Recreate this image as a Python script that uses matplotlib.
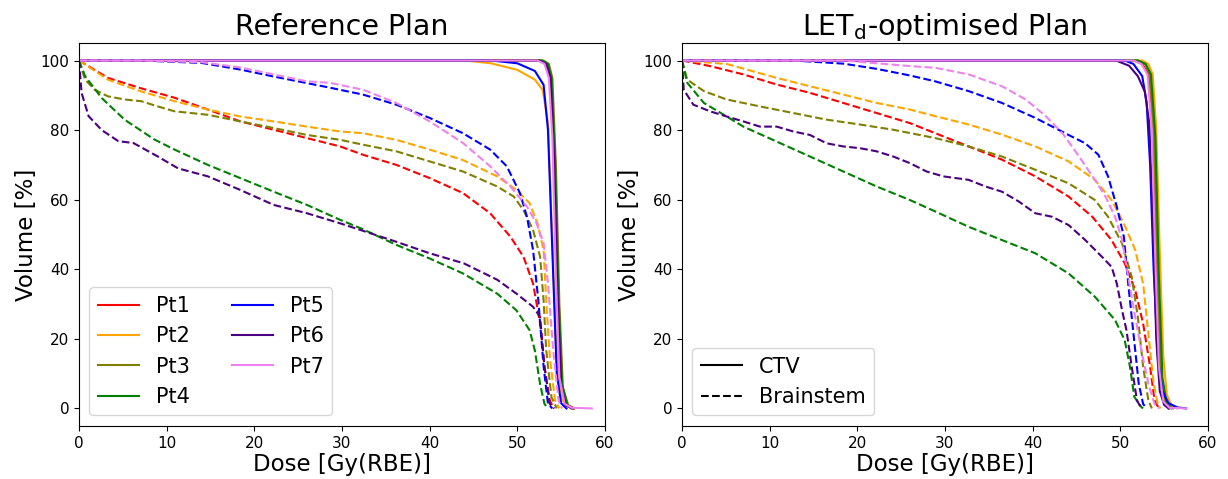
#!/usr/bin/env python3
import matplotlib
matplotlib.use('Agg')
import matplotlib.pyplot as plt
from matplotlib.lines import Line2D

patients = ['Pt1', 'Pt2', 'Pt3', 'Pt4', 'Pt5', 'Pt6', 'Pt7']
colours = ['red', 'orange', 'olive', 'green', 'blue', 'indigo', 'violet']

# ---- Reference plan: CTV DVHs (dose [Gy(RBE)], volume [%])
ref_ctv_dose = [
    [0, 52.5, 53.3, 53.8, 54.2, 54.6, 55, 55.5, 56.3],
    [0, 44, 47, 50, 52, 52.9, 53.5, 54, 54.5, 55, 55.6, 56.5],
    [0, 53, 53.6, 54, 54.4, 54.8, 55.2, 55.8, 56.5],
    [0, 52.8, 53.5, 53.9, 54.3, 54.7, 55.1, 55.7, 56.4],
    [0, 47, 50, 52, 53, 53.5, 54, 54.5, 55, 55.6],
    [0, 52.5, 53.3, 53.8, 54.2, 54.6, 55, 55.5, 56.2],
    [0, 52.3, 53.1, 53.6, 54, 54.4, 54.8, 55.4, 56.2, 58.5],
]
ref_ctv_vol = [
    [100, 100, 99, 95, 75, 35, 8, 1, 0],
    [100, 100, 99.2, 97.3, 94.5, 91.5, 82, 48, 12, 3, 0.7, 0],
    [100, 100, 99, 95, 70, 30, 6, 1, 0],
    [100, 100, 99, 95, 72, 32, 7, 1, 0],
    [100, 100, 99.2, 97, 93, 80, 45, 10, 1.5, 0],
    [100, 100, 99, 95, 72, 32, 7, 1, 0],
    [100, 100, 99, 95, 78, 38, 9, 1.3, 0.2, 0],
]

# ---- Reference plan: brainstem DVHs
ref_bs_dose = [
    [0, 3.3, 7.1, 10.9, 14.7, 18.4, 22.2, 26, 29.8, 32.4, 36.2, 40, 43.8, 46.9, 49.2, 50.7, 51.8, 52.6, 53.1, 53.7, 54.2],
    [0, 3.3, 7.1, 10.9, 14.7, 18.4, 22.2, 26, 29.8, 32.4, 36.2, 40, 43.8, 47.7, 49.9, 51.4, 52.3, 53, 53.3, 53.7, 54.3, 54.8],
    [0, 0.7, 1.8, 3.3, 5.2, 7.1, 9, 10.9, 14.7, 18.4, 22.2, 26, 29.8, 32.4, 36.2, 40, 43.8, 47.7, 49.6, 50.7, 51.8, 52.6, 53, 53.3, 53.9, 54.5],
    [0, 0.7, 2.6, 5.2, 8.6, 10.9, 14.7, 18.4, 22.2, 26, 29.8, 32.4, 36.2, 40, 43.8, 47.7, 49.9, 51.4, 52, 52.6, 53.1, 53.5],
    [0, 7, 14, 18.4, 22.2, 26, 28.6, 32.4, 36.2, 40, 43.8, 46.9, 48.8, 50.3, 51.1, 51.8, 52.4, 53, 53.5, 54],
    [0, 0.3, 1.1, 2.6, 4.5, 6.2, 9, 11.3, 14.7, 18.4, 22.2, 26, 29.8, 36.2, 40, 43.9, 47.7, 49.9, 51.8, 52.6, 53.1, 53.7, 54.2],
    [0, 7, 14, 18.4, 22.2, 26, 28.6, 32.4, 36.2, 40, 43.8, 46.9, 49.2, 51.1, 52.2, 53, 53.5, 54.1, 54.7, 55.1],
]
ref_bs_vol = [
    [100, 95, 92, 89.3, 85.9, 82.5, 80.1, 77.7, 75.3, 72.9, 70, 66.2, 61.9, 56.1, 49.4, 43.6, 35.9, 24.4, 12, 2.3, 0],
    [100, 94.5, 91.1, 88.3, 85.9, 83.9, 82.5, 81, 79.6, 79.1, 77.2, 74.4, 71.4, 66.7, 62.8, 59, 53.2, 45.5, 31, 14.8, 2.3, 0],
    [100, 94.5, 91.6, 89.7, 88.8, 88.3, 86.8, 85.4, 84.4, 82.5, 80.6, 78.6, 77.2, 75.8, 73.9, 71, 68.1, 63.8, 60.9, 57, 51.3, 43.6, 31, 16.7, 3.2, 0],
    [100, 95.5, 89.2, 83, 77.3, 74.4, 70, 66.2, 62.3, 58.5, 54.2, 51.5, 47, 43.1, 38.8, 33, 28.2, 22.5, 16.7, 7, 1.3, 0],
    [100, 100, 99.3, 97.4, 95.4, 93.5, 92.2, 90.2, 87.3, 83.5, 79.1, 74.4, 69.6, 61.9, 55.1, 45.5, 31, 12, 1.3, 0],
    [100, 90.7, 84, 80, 76.8, 76.3, 72.4, 69, 66.7, 62.8, 58.5, 56.1, 53.2, 47.9, 44.6, 41.7, 37, 33, 29.2, 26.3, 12, 1.3, 0],
    [100, 100, 99.5, 98, 96, 94, 93.6, 91.6, 87.8, 82.5, 76.3, 69.6, 63.8, 58, 53.2, 47.5, 35.9, 16.7, 2.3, 0],
]

# ---- LETd-optimised plan: CTV DVHs
opt_ctv_dose = [
    [0, 51.5, 52.5, 53.2, 53.7, 54.1, 54.5, 55, 55.6],
    [0, 52.5, 53.2, 53.7, 54.1, 54.5, 54.9, 55.3, 55.8, 56.5],
    [0, 52, 52.8, 53.4, 53.9, 54.3, 54.7, 55.2, 55.8],
    [0, 52, 52.9, 53.5, 54, 54.4, 54.8, 55.3, 56],
    [0, 50.5, 51.5, 52.5, 53, 53.4, 53.8, 54.3, 54.8, 55.5, 56.5, 57.5],
    [0, 49.5, 51, 52, 52.8, 53.3, 53.7, 54.1, 54.5, 55, 55.5],
    [0, 51.5, 52.4, 53.1, 53.6, 54, 54.4, 54.9, 55.6, 57.5],
]
opt_ctv_vol = [
    [100, 100, 99, 96, 80, 40, 10, 1.5, 0],
    [100, 100, 99, 96, 80, 45, 15, 4, 1, 0],
    [100, 100, 99, 96, 75, 35, 8, 1, 0],
    [100, 100, 99, 96, 78, 38, 9, 1.2, 0],
    [100, 100, 99, 95.5, 88, 70, 40, 14, 5, 1.5, 0.3, 0],
    [100, 100, 98.5, 95.5, 91, 82, 55, 20, 5, 1, 0],
    [100, 100, 99, 96, 80, 42, 12, 2, 0.2, 0],
]

# ---- LETd-optimised plan: brainstem DVHs
opt_bs_dose = [
    [0, 3.2, 7, 10.8, 14.6, 18.4, 22.2, 26, 28.9, 32.7, 36.5, 40.3, 44.1, 46.8, 49, 50.5, 51.7, 52.6, 53.4, 53.9, 54.4],
    [0, 5.1, 10.8, 14.6, 18.4, 22.2, 26, 28.9, 32.7, 36.5, 40.3, 44.1, 47.1, 49, 50.4, 51.7, 52.6, 53.2, 53.8, 54.3, 54.6],
    [0, 0.6, 2.5, 5.1, 8.9, 12.7, 16.5, 20.3, 24.1, 28.9, 32.7, 36.5, 40.3, 44.1, 47.1, 48.6, 50.2, 51.3, 52, 52.6, 53.2, 53.6],
    [0, 0.6, 2.5, 5.1, 7, 10.8, 14.6, 18.4, 22.2, 26, 28.9, 32.7, 36.5, 40.3, 44.1, 47.1, 49.4, 50.5, 51.1, 51.6, 52.4, 52.6],
    [0, 12.7, 18.4, 22.2, 26, 28.9, 32.7, 36.5, 40.3, 44.1, 46, 47.5, 48.6, 49.6, 50.4, 50.9, 51.5, 52.1, 52.6, 53],
    [0, 0.2, 1.3, 3.2, 5.1, 7, 8.9, 10.8, 12.7, 14.6, 16.5, 18.4, 20.3, 22.2, 24.1, 26, 27.9, 29.8, 32.7, 34.6,
     36.5, 38.4, 40.3, 42.2, 44.1, 46, 47.9, 49, 49.6, 50.2, 50.7, 51.3, 51.9, 52.4],
    [0, 18.4, 26, 28.9, 32.7, 36.5, 39.2, 41.5, 43.4, 45.3, 47.1, 48.3, 49.4, 50.2, 50.9, 51.7, 52.4, 53.2, 53.9, 54.4],
]
opt_bs_vol = [
    [100, 98.4, 96, 93.1, 90.7, 87.8, 84.9, 82, 79.1, 75.3, 71.5, 66.7, 60.9, 55.1, 48.4, 41.7, 34, 24.4, 12, 2.3, 0],
    [100, 99, 95, 92.6, 90.2, 87.8, 85.9, 84, 81.6, 78.7, 75.3, 71, 65.7, 59.9, 53.2, 45.5, 35.9, 21.5, 7.1, 0.9, 0],
    [100, 94.5, 91.2, 88.8, 86.8, 84.9, 83, 81.6, 80.1, 77.7, 75.3, 72.4, 68.6, 64.7, 59.9, 55.1, 47.4, 37.8, 26.3, 12, 2.3, 0],
    [100, 93.6, 87.8, 83.9, 81, 76.7, 72.4, 68.1, 63.8, 59.9, 56.6, 52.2, 48.4, 44.6, 38.8, 32.1, 25.4, 19.6, 12, 3.3, 0.4, 0],
    [100, 100, 99.1, 97.6, 95.7, 94, 91.2, 87.8, 83.5, 78.6, 76.2, 72.9, 66.7, 58, 49.4, 35.9, 21.5, 7.1, 1.3, 0],
    [100, 91.6, 87.3, 85.4, 83.9, 82.5, 81, 81, 79.6, 78.6, 76.2, 75.3, 74.8, 73.9, 72.4, 70.5, 68.1, 66.7, 65.7, 63.8,
     62.3, 59.5, 56.1, 55.1, 52.7, 48.4, 43.6, 40.7, 35.9, 28.2, 22.5, 12, 2.3, 0],
    [100, 100, 98.4, 97.9, 96, 92.6, 88.8, 84, 79.1, 72.4, 65.7, 60.9, 55.1, 48.4, 37.8, 26.3, 16.7, 7.1, 1.3, 0],
]

titles = ['Reference Plan', r'LET$_\mathrm{d}$-optimised Plan']

fig, axes = plt.subplots(1, 2, figsize=(12.28, 4.79), dpi=100)
fig.subplots_adjust(left=0.0643, right=0.9837, bottom=0.111, top=0.910, wspace=0.1464)

plans = [(ref_ctv_dose, ref_ctv_vol, ref_bs_dose, ref_bs_vol),
         (opt_ctv_dose, opt_ctv_vol, opt_bs_dose, opt_bs_vol)]

for ax, title, (cd, cv, bd, bv) in zip(axes, titles, plans):
    handles = []
    for i, name in enumerate(patients):
        h = ax.plot(cd[i], cv[i], '-', color=colours[i], lw=1.5, label=name)[0]
        ax.plot(bd[i], bv[i], '--', color=colours[i], lw=1.5)
        handles.append(h)
    ax.set_xlim(0, 60)
    ax.set_ylim(-5, 105)
    ax.set_title(title, fontsize=20.5)
    ax.set_xlabel('Dose [Gy(RBE)]', fontsize=16.5, labelpad=2)
    ax.set_ylabel('Volume [%]', fontsize=16.5, labelpad=2)
    ax.tick_params(labelsize=11)
    ax.set_xticks([0, 10, 20, 30, 40, 50, 60])
    ax.set_yticks([0, 20, 40, 60, 80, 100])

axes[0].legend(handles=handles, loc='lower left', ncol=2, fontsize=15)
style_handles = [Line2D([0], [0], color='black', ls='-', lw=1.5, label='CTV'),
                 Line2D([0], [0], color='black', ls='--', lw=1.5, label='Brainstem')]
axes[1].legend(handles=style_handles, loc='lower left', fontsize=15)

fig.savefig('out.png', dpi=100)
